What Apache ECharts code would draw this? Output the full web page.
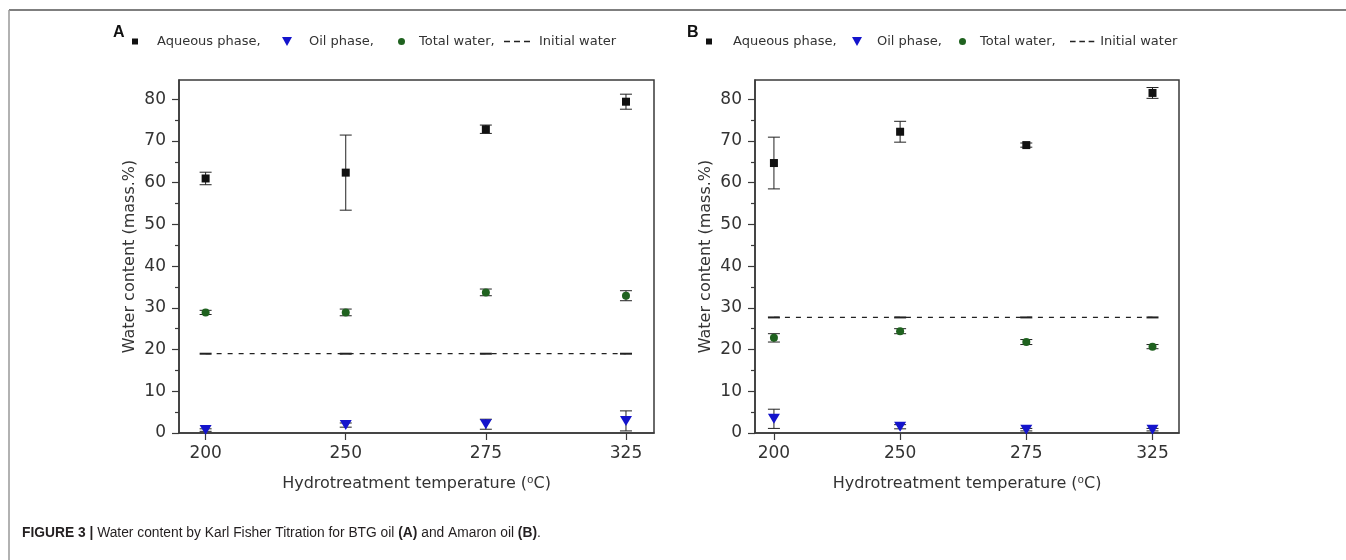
<!DOCTYPE html>
<html><head><meta charset="utf-8">
<script src="https://cdn.jsdelivr.net/npm/echarts@6/dist/echarts.min.js"></script>
<style>html,body{margin:0;padding:0;background:#fff}#c{width:1346px;height:560px}</style>
</head><body><div id="c"></div>
<script>
// ---- data ----
const categories = ['200', '250', '275', '325'];
const yTicks = [0, 10, 20, 30, 40, 50, 60, 70, 80];
const yMinorTicks = [5, 15, 25, 35, 45, 55, 65, 75];
const seriesNames = ['Aqueous phase,', 'Oil phase,', 'Total water,', 'Initial water'];

// Panel A: BTG oil
const aqueousA = [61.0, 62.4, 72.8, 79.4];
const aqueousErrA = [1.5, 9.0, 1.0, 1.8];
const oilA = [0.7, 1.9, 2.1, 2.9];
const oilErrA = [0.3, 0.5, 1.2, 2.4];
const totalA = [28.9, 28.9, 33.7, 32.9];
const totalErrA = [0.5, 0.8, 0.8, 1.2];
const initialA = [19.0, 19.0, 19.0, 19.0];

// Panel B: Amaron oil
const aqueousB = [64.7, 72.2, 69.0, 81.5];
const aqueousErrB = [6.2, 2.5, 0.5, 1.3];
const oilB = [3.4, 1.5, 0.8, 0.8];
const oilErrB = [2.3, 0.5, 0.3, 0.3];
const totalB = [22.8, 24.4, 21.8, 20.7];
const totalErrB = [1.0, 0.6, 0.6, 0.5];
const initialB = [27.7, 27.7, 27.7, 27.7];

// ---- styling ----
const FONT = 'DejaVu Sans';
const AX = '#3a3a3a';
const TXT = '#333';
const C_AQ = '#111111', C_OIL = '#1414cc', C_TOT = '#1f621f', C_INI = '#222222';

const pts = arr => arr.map((v, i) => [i, v]);
const errs = (vals, e) => vals.map((v, i) => [i, v - e[i], v + e[i]]);

function errRender(params, api) {
  const x = api.value(0), lo = api.value(1), hi = api.value(2);
  const a = api.coord([x, lo]), b = api.coord([x, hi]);
  const w = 6, st = { stroke: '#222', lineWidth: 1 };
  return { type: 'group', children: [
    { type: 'line', shape: { x1: a[0], y1: a[1], x2: b[0], y2: b[1] }, style: st },
    { type: 'line', shape: { x1: a[0] - w, y1: a[1], x2: a[0] + w, y2: a[1] }, style: st },
    { type: 'line', shape: { x1: b[0] - w, y1: b[1], x2: b[0] + w, y2: b[1] }, style: st }
  ]};
}

function panelSeries(g, aq, aqE, oil, oilE, tot, totE, ini) {
  const yi = g * 2;
  return [
    { type: 'custom', xAxisIndex: g, yAxisIndex: yi, renderItem: errRender, silent: true, z: 2,
      encode: { x: 0, y: [1, 2] },
      data: [].concat(errs(aq, aqE), errs(oil, oilE), errs(tot, totE)) },
    { name: seriesNames[3], type: 'line', xAxisIndex: g, yAxisIndex: yi, data: pts(ini), color: C_INI,
      symbol: 'rect', symbolSize: [12, 2], showSymbol: true, z: 3, silent: true,
      lineStyle: { color: C_INI, width: 1.2, type: [5, 6] }, itemStyle: { color: C_INI, opacity: 1 } },
    { name: seriesNames[0], type: 'scatter', xAxisIndex: g, yAxisIndex: yi, data: pts(aq), color: C_AQ,
      symbol: 'rect', symbolSize: 8, z: 4, itemStyle: { color: C_AQ, opacity: 1 } },
    { name: seriesNames[1], type: 'scatter', xAxisIndex: g, yAxisIndex: yi, data: pts(oil), color: C_OIL,
      symbol: 'triangle', symbolRotate: 180, symbolSize: [12, 10], z: 4, itemStyle: { color: C_OIL, opacity: 1 } },
    { name: seriesNames[2], type: 'scatter', xAxisIndex: g, yAxisIndex: yi, data: pts(tot), color: C_TOT,
      symbol: 'circle', symbolSize: 8, z: 4, itemStyle: { color: C_TOT, opacity: 1 } }
  ];
}

function xAx(g, min, max) {
  return { gridIndex: g, type: 'value', min: min, max: max, splitLine: { show: false },
    axisLine: { show: true, onZero: false, lineStyle: { color: AX, width: 1.5 } },
    axisTick: { show: true, customValues: [0, 1, 2, 3], length: 7, lineStyle: { color: AX, width: 1.2 } },
    axisLabel: { customValues: [0, 1, 2, 3], formatter: v => categories[Math.round(v)], margin: 12,
      fontFamily: FONT, fontSize: 17, color: TXT },
    name: 'Hydrotreatment temperature (\u2070C)', nameLocation: 'middle', nameGap: 43,
    nameTextStyle: { fontFamily: FONT, fontSize: 16, color: TXT } };
}
function yAx(g) {
  return { gridIndex: g, type: 'value', min: 0, max: 84.6, position: 'left', splitLine: { show: false },
    axisLine: { show: true, onZero: false, lineStyle: { color: AX, width: 1.5 } },
    axisTick: { show: true, customValues: yTicks, length: 7, lineStyle: { color: AX, width: 1.2 } },
    axisLabel: { customValues: yTicks, margin: 13, fontFamily: FONT, fontSize: 17, color: TXT },
    name: 'Water content (mass.%)', nameLocation: 'middle', nameGap: 41, nameRotate: 90,
    nameTextStyle: { fontFamily: FONT, fontSize: 16, color: TXT } };
}
function yMinor(g) {
  return { gridIndex: g, type: 'value', min: 0, max: 84.6, position: 'left', offset: 0, splitLine: { show: false },
    axisLine: { show: false, onZero: false },
    axisTick: { show: true, customValues: yMinorTicks, length: 4, lineStyle: { color: AX, width: 1.2 } },
    axisLabel: { show: false } };
}

function legendItem(name, icon, w, h, left, pad, top) {
  return { data: [{ name: name, icon: icon }], left: left, top: top || 35, itemWidth: w, itemHeight: h,
    selectedMode: false, symbolKeepAspect: true, padding: 0, itemGap: 0,
    textStyle: { fontFamily: FONT, fontSize: 13, color: TXT, padding: [0, 0, 0, pad] } };
}
const TRI = 'path://M0,0L10,0L5,9Z';
const DASH = 'path://M0,0h6v1.5h-6zM10,0h6v1.5h-6zM20,0h6v1.5h-6z';

const option = {
  animation: false,
  backgroundColor: '#fff',
  title: [
    { text: 'A', left: 113, top: 25, padding: 0, textStyle: { fontFamily: 'Liberation Sans', fontSize: 16, fontWeight: 'bold', color: '#111' } },
    { text: 'B', left: 687, top: 25, padding: 0, textStyle: { fontFamily: 'Liberation Sans', fontSize: 16, fontWeight: 'bold', color: '#111' } },
    { text: '{b|FIGURE 3 |} Water content by Karl Fisher Titration for BTG oil {b|(A)} and Amaron oil {b|(B)}.',
      left: 22, top: 526, padding: 0,
      textStyle: { fontFamily: 'Liberation Sans', fontSize: 13.8, fontWeight: 'normal', color: '#231f20',
        rich: { b: { fontFamily: 'Liberation Sans', fontSize: 13.8, fontWeight: 'bold', color: '#231f20' } } } }
  ],
  legend: [
    legendItem(seriesNames[0], 'rect', 6, 6, 132, 14),
    legendItem(seriesNames[1], TRI, 10, 9, 282, 12),
    legendItem(seriesNames[2], 'circle', 7, 7, 398, 9),
    legendItem(seriesNames[3], DASH, 28, 1.5, 504, 3),
    legendItem(seriesNames[0], 'rect', 6, 6, 706, 16),
    legendItem(seriesNames[1], TRI, 10, 9, 852, 10),
    legendItem(seriesNames[2], 'circle', 7, 7, 959, 9),
    legendItem(seriesNames[3], DASH, 26, 1.4, 1070, 0)
  ],
  grid: [
    { left: 179, top: 80, width: 475, height: 353, show: true, borderColor: AX, borderWidth: 1.5, backgroundColor: 'transparent' },
    { left: 755, top: 80, width: 424, height: 353, show: true, borderColor: AX, borderWidth: 1.5, backgroundColor: 'transparent' }
  ],
  xAxis: [xAx(0, -0.19, 3.2), xAx(1, -0.15, 3.21)],
  yAxis: [yAx(0), yMinor(0), yAx(1), yMinor(1)],
  graphic: [
    { type: 'line', shape: { x1: 9, y1: 10, x2: 1346, y2: 10 }, style: { stroke: '#555', lineWidth: 1.5 } },
    { type: 'line', shape: { x1: 9, y1: 10, x2: 9, y2: 560 }, style: { stroke: '#999', lineWidth: 1.5 } }
  ],
  series: [].concat(
    panelSeries(0, aqueousA, aqueousErrA, oilA, oilErrA, totalA, totalErrA, initialA),
    panelSeries(1, aqueousB, aqueousErrB, oilB, oilErrB, totalB, totalErrB, initialB)
  )
};
const chart = echarts.init(document.getElementById('c'), null, { renderer: 'canvas' });
chart.setOption(option);
</script></body></html>
